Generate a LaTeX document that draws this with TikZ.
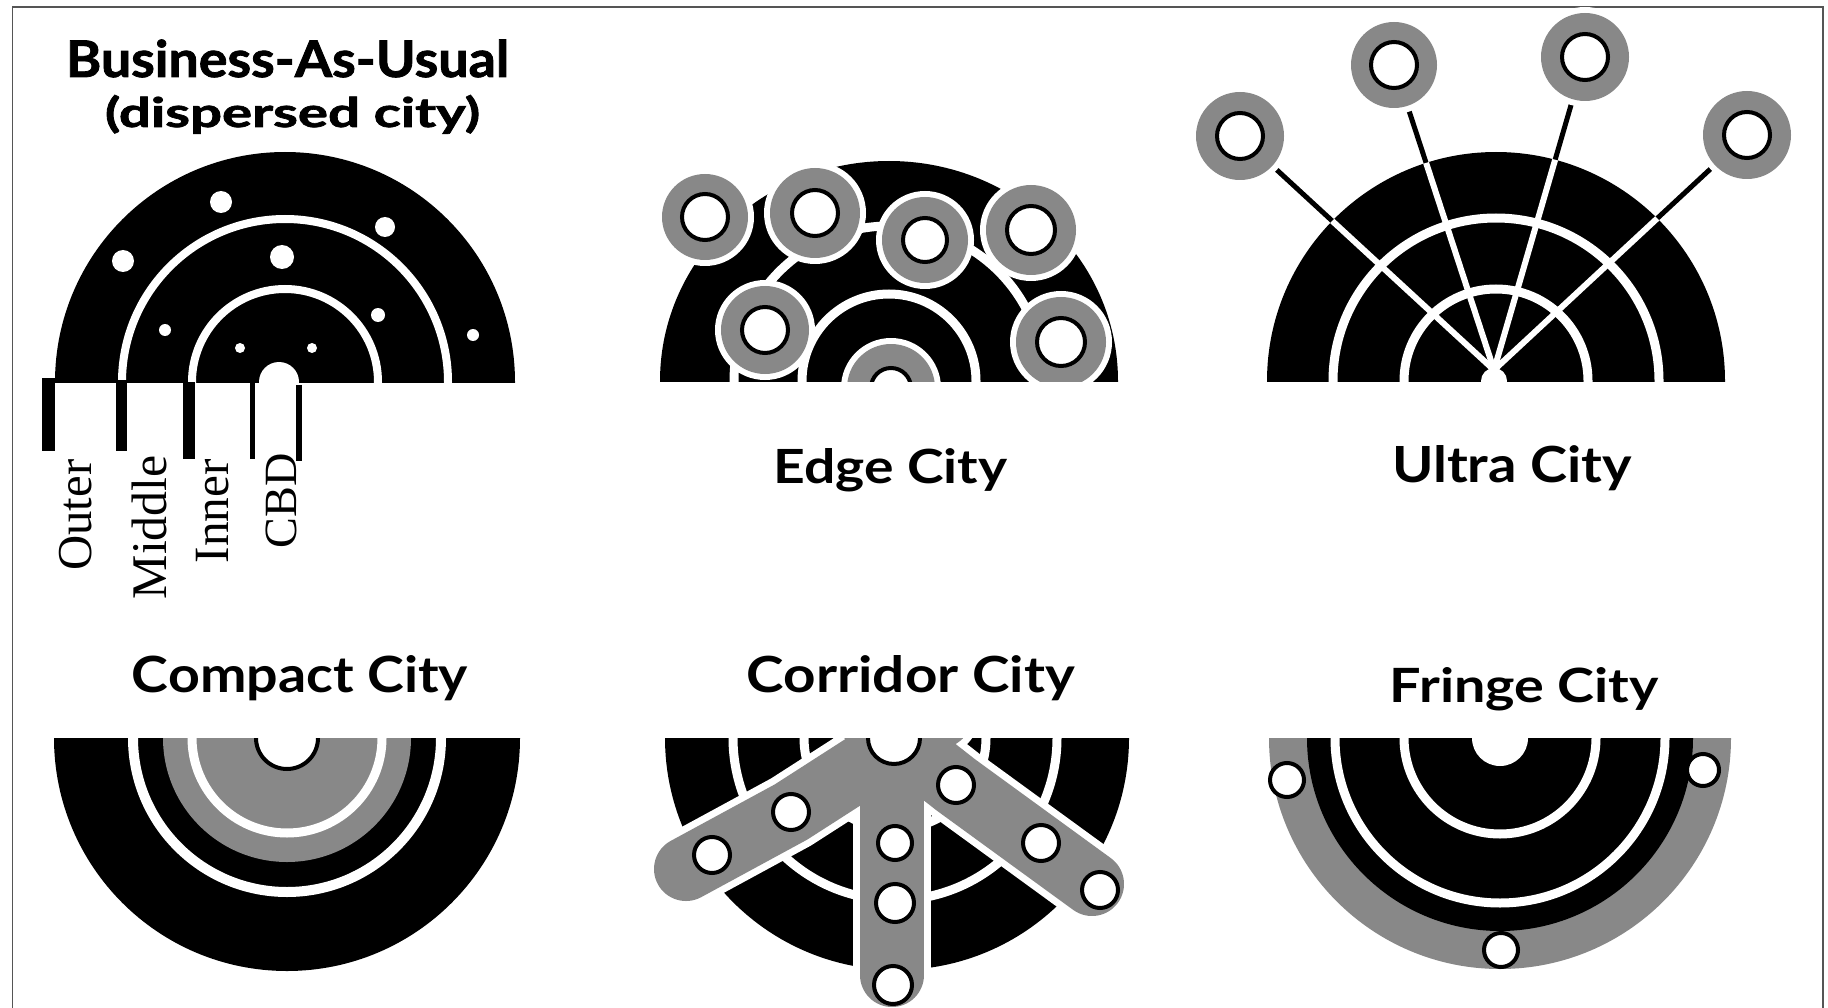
\documentclass[tikz,border=0pt]{standalone}
\usepackage{fontspec}
\setmainfont{Liberation Serif}
\newfontfamily\titlefont{Lato}
\newfontfamily\heavyfont[BoldFeatures={FakeBold=1.6}]{Lato}
\usepackage{graphicx}
\definecolor{cgray}{RGB}{136,136,136}
\definecolor{framec}{RGB}{85,85,85}
\newcommand{\cityring}[4]{%
  \fill[white] (#1,#2) circle ({#3+6});
  \fill[cgray] (#1,#2) circle (#3);
  \draw[black,line width=4pt,fill=white] (#1,#2) circle (#4);}
\newcommand{\smallcity}[3]{%
  \draw[black,line width=4pt,fill=white] (#1,#2) circle (#3);}
\begin{document}
\begin{tikzpicture}[x=1pt,y=-1pt,
  wring/.style={draw=white,line width=9pt},
  lab/.style={inner sep=0pt,anchor=base east,rotate=90,font=\fontsize{48}{50}\selectfont},
  ttl/.style={inner sep=0pt,anchor=base,font=\titlefont\bfseries},
  bspoke/.style={black,line width=5pt},
  wspoke/.style={white,line width=6pt},
  bandw/.style={white,line width=78pt,line cap=round,line join=round},
  bandg/.style={cgray,line width=64pt,line cap=round,line join=round}]
\useasboundingbox (0,0) rectangle (1828,1008);
\fill[white] (0,0) rectangle (1828,1008);
% frame
\draw[framec,line width=1.6pt] (12.5,1008) -- (12.5,7) -- (1823,7) -- (1823,1008);

% ---------------- Panel 1: Business-As-Usual
\node[ttl,font=\heavyfont\bfseries] (t1a) at (287.5,77) {\resizebox{443pt}{37.5pt}{Business-As-Usual}};
\node[ttl,font=\heavyfont\bfseries] (t1b) at (292.5,127) {\resizebox{375pt}{32pt}{(dispersed city)}};
\begin{scope}
  \clip (40,100) rectangle (540,382);
  \fill[black] (285,382) circle (230);
  \draw[wring,line width=8pt] (285,382) circle (163);
  \draw[wring,line width=8pt] (285,382) circle (93);
  \fill[white] (279,382) circle (20);
  \fill[white] (221,202) circle (11);
  \fill[white] (123,261) circle (11);
  \fill[white] (282,257) circle (12);
  \fill[white] (385,227) circle (10);
  \fill[white] (165,330) circle (6);
  \fill[white] (240,348) circle (5);
  \fill[white] (312,348) circle (5);
  \fill[white] (378,315) circle (7);
  \fill[white] (473,335) circle (6);
\end{scope}
\fill[black] (42,378) rectangle (55,451);
\fill[black] (116,380) rectangle (127,451);
\fill[black] (183,382) rectangle (195,459);
\fill[black] (250,383) rectangle (255,459);
\fill[black] (296,385) rectangle (302,461);
\node[lab] (louter) at (91,459.5) {\resizebox{111pt}{!}{Outer}};
\node[lab] (lmiddle) at (166,455) {\resizebox{144pt}{!}{Middle}};
\node[lab] (linner) at (228,459) {\resizebox{104pt}{!}{Inner}};
\node[lab] (lcbd) at (296,453) {\resizebox{95pt}{!}{CBD}};

% ---------------- Panel 2: Edge City
\begin{scope}
  \clip (600,100) rectangle (1180,381);
  \fill[black] (889,381) ellipse [x radius=229, y radius=220];
  \draw[wring] (889,381) circle (155);
  \draw[wring] (889,381) circle (87);
  \cityring{705}{217}{43}{23}
  \cityring{815}{213}{45}{23}
  \cityring{925}{240}{43}{22}
  \cityring{1031}{230}{45}{24}
  \cityring{765}{330}{44}{23}
  \cityring{1061}{342}{45}{24}
  \cityring{891}{388}{44}{20}
\end{scope}
\node[ttl] (t2) at (890.5,483) {\resizebox{234pt}{35pt}{Edge City}};

% ---------------- Panel 3: Ultra City
\coordinate (hub) at (1494,370);
\coordinate (s1) at (1240,136);
\coordinate (s2) at (1394,65);
\coordinate (s3) at (1585,57);
\coordinate (s4) at (1747,135);
\draw[bspoke] (s1) -- (hub);
\draw[bspoke] (s2) -- (hub);
\draw[bspoke] (s3) -- (hub);
\draw[bspoke] (s4) -- (hub);
\begin{scope}
  \clip (1250,100) rectangle (1740,381);
  \fill[black] (1496,381) circle (229);
  \draw[wring] (1496,381) circle (163);
  \draw[wring] (1496,381) circle (92);
  \begin{scope}
    \clip (1496,381) circle (229);
    \draw[wspoke] (hub) -- (s1);
    \draw[wspoke] (hub) -- (s2);
    \draw[wspoke] (hub) -- (s3);
    \draw[wspoke] (hub) -- (s4);
  \end{scope}
  \fill[white] (1494,381) circle (13);
\end{scope}
\cityring{1240}{136}{44}{23}
\cityring{1394}{65}{43}{23}
\cityring{1585}{57}{44}{23}
\cityring{1747}{135}{44}{23}
\node[ttl] (t3) at (1512,482) {\resizebox{240pt}{37pt}{Ultra City}};

% ---------------- Panel 4: Compact City
\node[ttl] (t4) at (300,692) {\resizebox{336pt}{37pt}{Compact City}};
\begin{scope}
  \clip (40,738) rectangle (540,1008);
  \fill[black] (287,738) circle (233);
  \draw[wring,line width=10pt] (287,738) circle (154);
  \fill[cgray] (287,738) circle (124);
  \draw[wring] (287,738) circle (95);
  \draw[black,line width=4pt,fill=white] (287,738) circle (31);
\end{scope}

% ---------------- Panel 5: Corridor City
\node[ttl] (t5) at (911,692) {\resizebox{328pt}{37pt}{Corridor City}};
\coordinate (lend) at (686,869);
\coordinate (lmid) at (791,812);
\coordinate (lhub) at (900,742);
\coordinate (lfar) at (940,716);
\coordinate (rend) at (1092,884);
\coordinate (rmid) at (956,785);
\coordinate (rfar) at (850,702);
\coordinate (vend) at (892,975);
\coordinate (vfar) at (892,700);
\begin{scope}
  \clip (640,738) rectangle (1160,1008);
  \fill[black] (897,738) circle (232);
  \draw[wring] (895,738) circle (162);
  \draw[wring] (895,738) circle (91);
  \draw[bandw] (lend) -- (lmid) -- (lhub) -- (lfar);
  \draw[bandw] (rend) -- (rmid) -- (rfar);
  \draw[bandw] (vend) -- (vfar);
  \draw[bandg] (lend) -- (lmid) -- (lhub) -- (lfar);
  \draw[bandg] (rend) -- (rmid) -- (rfar);
  \draw[bandg] (vend) -- (vfar);
  \draw[black,line width=4pt,fill=white] (894,738) circle (26);
  \smallcity{712}{855}{18}
  \smallcity{791}{812}{18}
  \smallcity{956}{785}{18}
  \smallcity{1041}{843}{18}
  \smallcity{1100}{890}{18}
  \smallcity{895}{843}{17}
  \smallcity{895}{903}{19}
  \smallcity{893}{985}{19}
\end{scope}

% ---------------- Panel 6: Fringe City
\node[ttl] (t6) at (1524.5,702) {\resizebox{269pt}{35pt}{Fringe City}};
\begin{scope}
  \clip (1250,738) rectangle (1760,1008);
  \fill[cgray] (1500,738) circle (231);
  \fill[black] (1500,738) circle (193);
  \draw[wring] (1500,738) circle (165);
  \draw[wring] (1500,738) circle (96);
  \fill[white] (1500,738) circle (28);
  \smallcity{1287}{780}{17}
  \smallcity{1703}{770}{16}
  \smallcity{1501}{950}{17}
\end{scope}
\end{tikzpicture}
\end{document}
